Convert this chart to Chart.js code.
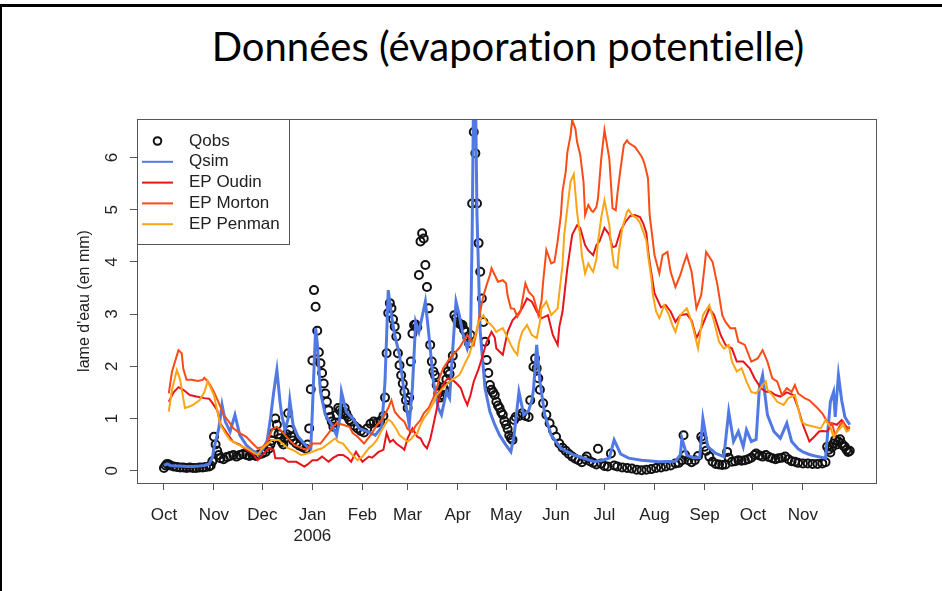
<!DOCTYPE html>
<html lang="fr">
<head>
<meta charset="utf-8">
<title>Données (évaporation potentielle)</title>
<script src="https://cdn.jsdelivr.net/npm/chart.js@4.4.1/dist/chart.umd.min.js"></script>
<style>
  html, body { margin: 0; padding: 0; background: #fff; }
  #slide { position: relative; width: 942px; height: 591px; overflow: hidden; background: #fff; }
  .frame-top { position: absolute; left: 0; top: 4px; width: 942px; height: 3px; background: #000; }
  .frame-left { position: absolute; left: 0; top: 4px; width: 2px; height: 587px; background: #000; }
  h1 { position: absolute; left: 0; top: 26px; width: 1016px; margin: 0; text-align: center;
       font: 400 40px/40px Lato, sans-serif; color: #000; font-variant-ligatures: none; }
  canvas { position: absolute; left: 0; top: 0; }
</style>
</head>
<body>
<div id="slide">
  <div class="frame-top"></div>
  <div class="frame-left"></div>
  <h1>Données (évaporation potentielle)</h1>
  <canvas id="chart" width="942" height="591"></canvas>
</div>
<script>
// days counted from 1 Oct 2005
const monthTicks = [0, 31, 61, 92, 123, 151, 182, 212, 243, 273, 304, 335, 365, 396];
const monthLabels = ['Oct', 'Nov', 'Dec', ['Jan', '2006'], 'Feb', 'Mar', 'Apr', 'May', 'Jun', 'Jul', 'Aug', 'Sep', 'Oct', 'Nov'];
const yTicks = [0, 1, 2, 3, 4, 5, 6];

// [day, mm]
const qobsPoints = [
  [0,0.05],[1,0.10],[2,0.13],[3,0.12],[4,0.10],[6,0.08],[8,0.07],[10,0.06],[12,0.06],[14,0.05],[16,0.06],[18,0.05],
  [20,0.05],[22,0.06],[24,0.06],[26,0.07],[28,0.08],[29,0.10],[30,0.18],[31,0.65],[32,0.50],[33,0.38],[34,0.30],
  [35,0.24],[37,0.22],[39,0.26],[41,0.28],[43,0.30],[45,0.27],[47,0.30],[49,0.32],[51,0.30],[53,0.28],[55,0.30],
  [57,0.28],[59,0.31],[61,0.33],[63,0.36],[65,0.42],[66,0.50],[67,0.58],[68,0.72],[69,1.00],[70,0.88],[71,0.70],
  [72,0.62],[73,0.55],[74,0.50],[75,0.62],[76,0.70],[77,1.10],[78,0.78],[79,0.66],[80,0.58],[82,0.52],[84,0.48],
  [86,0.45],[88,0.42],[89,0.50],[90,0.81],[91,1.56],[92,2.11],[93,3.46],[94,3.14],[95,2.68],[96,2.27],[97,2.06],
  [98,1.87],[99,1.67],[100,1.48],[101,1.32],[102,1.16],[103,1.03],[104,0.94],[105,0.84],[106,0.92],[107,1.07],
  [108,1.20],[109,1.16],[110,1.12],[111,1.08],[112,1.20],[113,1.10],[114,1.03],[115,0.97],[116,0.94],[118,0.86],
  [120,0.81],[122,0.76],[124,0.73],[126,0.81],[128,0.90],[130,0.94],[132,0.92],[134,0.95],[136,1.05],[137,1.40],
  [138,2.25],[139,3.02],[140,3.21],[141,3.11],[142,2.90],[143,2.76],[144,2.57],[145,2.25],[146,2.02],[147,1.83],
  [148,1.67],[149,1.51],[150,1.35],[151,1.20],[152,1.40],[153,2.09],[154,2.63],[155,2.79],[156,2.80],[157,2.75],
  [158,3.75],[159,4.39],[160,4.55],[161,4.45],[162,3.94],[163,3.52],[164,3.11],[165,2.41],[166,2.09],[167,1.90],
  [168,1.83],[169,1.64],[170,1.48],[171,1.40],[172,1.45],[173,1.60],[174,1.55],[175,1.75],[176,1.90],[177,1.85],
  [178,2.02],[179,2.20],[180,2.98],[181,2.92],[182,2.85],[183,2.82],[184,2.80],[185,2.79],[186,2.70],[187,2.66],
  [188,2.55],[189,2.44],[190,2.60],[191,5.12],[192,6.49],[193,6.08],[194,5.12],[195,4.36],[196,3.81],[197,3.30],
  [198,2.85],[199,2.47],[200,2.12],[201,1.87],[202,1.64],[203,1.55],[204,1.50],[205,1.45],[206,1.32],[207,1.25],
  [208,1.20],[209,1.12],[210,1.07],[211,0.95],[212,0.88],[213,0.80],[214,0.68],[215,0.62],[216,0.59],[217,0.97],
  [218,1.03],[220,1.05],[222,1.10],[224,1.05],[226,1.03],[227,1.35],[229,1.99],[230,2.15],[231,1.96],[232,1.77],
  [233,1.55],[235,1.29],[237,1.07],[239,0.91],[241,0.78],[243,0.65],[245,0.52],[247,0.44],[249,0.38],[251,0.32],
  [253,0.27],[255,0.23],[257,0.20],[259,0.16],[261,0.22],[262,0.27],[264,0.18],[266,0.15],[268,0.12],[269,0.42],
  [271,0.14],[273,0.09],[275,0.08],[277,0.33],[279,0.10],[281,0.08],[284,0.06],[287,0.05],[290,0.04],[293,0.02],
  [296,0.01],[299,0.02],[302,0.03],[305,0.05],[308,0.06],[311,0.08],[314,0.10],[317,0.14],[319,0.15],[321,0.20],
  [322,0.68],[323,0.30],[325,0.20],[327,0.16],[329,0.20],[331,0.28],[333,0.65],[334,0.60],[335,0.46],[336,0.38],
  [338,0.27],[340,0.17],[342,0.13],[344,0.12],[346,0.11],[348,0.12],[349,0.36],[350,0.25],[352,0.17],[354,0.18],
  [356,0.20],[358,0.19],[360,0.20],[362,0.22],[364,0.25],[366,0.30],[367,0.33],[369,0.29],[371,0.27],[373,0.30],
  [375,0.26],[377,0.24],[379,0.22],[381,0.24],[383,0.25],[385,0.27],[387,0.22],[389,0.18],[391,0.17],[393,0.15],
  [396,0.14],[399,0.14],[402,0.13],[405,0.13],[408,0.14],[410,0.16],[411,0.46],[412,0.40],[413,0.35],[414,0.45],
  [415,0.52],[416,0.59],[417,0.50],[418,0.56],[419,0.60],[420,0.52],[421,0.48],[422,0.46],[423,0.40],[424,0.36],
  [425,0.38]
];

const qsimPoints = [
  [0,0.10],[2,0.13],[4,0.10],[7,0.09],[10,0.09],[14,0.08],[18,0.08],[22,0.09],[25,0.10],[28,0.13],[30,0.25],
  [31,0.43],[34,0.81],[36,1.26],[38,0.94],[41,0.75],[44,1.07],[47,0.68],[51,0.49],[55,0.38],[59,0.32],[62,0.45],
  [64,0.58],[66,1.00],[68,1.50],[70,1.93],[72,1.30],[73,1.07],[75,0.78],[77,1.00],[78,1.35],[80,0.88],[83,0.66],
  [86,0.55],[89,0.45],[91,0.42],[92,1.16],[94,2.73],[95,2.45],[97,1.51],[100,1.07],[104,0.88],[107,0.68],[109,1.00],
  [110,1.51],[113,1.13],[117,1.00],[121,0.81],[126,0.75],[131,0.68],[135,0.84],[137,1.71],[139,3.46],[141,2.98],
  [143,2.60],[146,2.22],[148,1.71],[150,1.26],[152,0.88],[154,1.60],[156,2.85],[158,2.66],[160,2.95],[162,3.24],
  [164,2.66],[167,1.71],[170,1.20],[172,1.07],[175,1.51],[177,1.39],[179,2.34],[181,3.24],[183,2.98],[185,2.66],
  [188,2.34],[190,2.55],[191,4.50],[192,7.60],[193,7.40],[194,4.90],[196,2.66],[199,1.58],[202,1.13],[205,0.88],
  [208,0.68],[212,0.49],[215,0.36],[217,0.68],[220,1.51],[223,1.07],[226,1.15],[228,1.35],[229,1.55],[231,2.41],
  [233,1.71],[236,1.07],[240,0.68],[246,0.43],[254,0.30],[262,0.22],[267,0.17],[272,0.20],[276,0.24],[279,0.59],
  [283,0.32],[288,0.24],[296,0.20],[307,0.17],[317,0.18],[320,0.30],[321,0.62],[324,0.30],[328,0.25],[332,0.25],
  [334,1.00],[337,0.46],[342,0.33],[347,0.27],[350,1.13],[353,0.56],[356,0.75],[359,0.46],[361,0.78],[364,0.56],
  [367,0.60],[369,1.58],[371,1.83],[374,1.07],[378,0.75],[382,0.62],[386,0.91],[389,0.56],[393,0.42],[396,0.36],
  [400,0.31],[405,0.27],[410,0.24],[411,0.60],[413,1.32],[415,1.51],[416,1.03],[418,1.83],[420,1.35],[422,1.03],
  [425,0.88]
];

const oudinPoints = [
  [3,1.32],[6,1.50],[9,1.60],[12,1.55],[16,1.45],[20,1.42],[25,1.39],[28,1.38],[30,1.30],[33,1.16],[35,0.90],
  [39,0.72],[43,0.55],[47,0.50],[51,0.40],[55,0.33],[58,0.20],[61,0.30],[65,0.43],[68,0.40],[69,0.24],[74,0.24],
  [77,0.17],[82,0.17],[87,0.08],[89,0.12],[92,0.20],[95,0.20],[98,0.27],[102,0.17],[105,0.25],[108,0.30],[111,0.30],
  [114,0.24],[116,0.17],[119,0.36],[123,0.17],[127,0.27],[129,0.25],[133,0.36],[136,0.40],[138,0.72],[140,0.55],
  [142,0.59],[144,0.52],[148,0.43],[149,0.40],[151,0.62],[154,0.81],[157,0.65],[159,0.62],[161,0.50],[163,0.43],
  [165,0.60],[167,0.88],[170,1.32],[172,1.58],[174,1.70],[176,1.77],[180,1.71],[182,1.65],[184,1.58],[186,1.40],
  [188,1.26],[190,1.45],[192,1.71],[195,1.95],[197,2.15],[200,2.47],[203,2.66],[205,2.55],[206,2.34],[210,2.22],
  [213,2.66],[216,2.88],[219,2.98],[222,3.11],[225,3.30],[228,3.24],[231,3.05],[234,2.92],[238,2.98],[241,2.60],
  [244,2.41],[245,2.75],[247,3.05],[250,3.88],[253,4.52],[256,4.70],[258,4.65],[261,4.32],[263,4.22],[266,4.13],
  [268,4.32],[270,4.40],[273,4.65],[276,4.52],[278,4.28],[280,4.30],[283,4.60],[286,4.77],[289,4.88],[292,4.90],
  [295,4.86],[297,4.74],[299,4.55],[300,4.23],[301,4.00],[304,3.40],[308,3.13],[311,3.17],[314,3.05],[317,2.85],
  [320,2.98],[324,3.00],[327,2.88],[330,2.54],[333,2.73],[338,3.11],[341,2.98],[345,2.60],[348,2.41],[352,2.34],
  [355,2.09],[359,2.09],[363,1.96],[366,1.77],[370,1.58],[373,1.51],[376,1.51],[379,1.45],[382,1.42],[386,1.50],
  [390,1.45],[393,1.20],[396,0.88],[400,0.56],[403,0.65],[406,0.75],[408,0.76],[411,0.75],[414,0.91],[417,0.88],
  [420,0.97],[423,0.84],[425,0.80]
];

const mortonPoints = [
  [3,1.48],[5,1.90],[9,2.31],[11,2.25],[12,1.95],[14,1.74],[17,1.74],[21,1.72],[24,1.74],[25,1.78],[27,1.72],
  [29,1.62],[31,1.51],[34,1.30],[37,1.07],[40,0.95],[43,0.81],[47,0.72],[51,0.65],[55,0.52],[58,0.43],[61,0.45],
  [64,0.55],[67,0.78],[70,0.84],[73,0.75],[75,0.68],[78,0.58],[81,0.49],[84,0.45],[88,0.40],[92,0.52],[97,0.52],
  [102,0.72],[105,0.85],[107,0.91],[111,0.88],[115,0.84],[117,0.72],[120,0.65],[124,0.52],[126,0.60],[129,0.72],
  [132,0.88],[135,0.97],[139,1.20],[141,1.35],[143,1.13],[146,1.02],[149,0.94],[151,0.80],[154,0.75],[156,0.86],
  [159,0.97],[161,1.10],[164,1.20],[167,1.40],[169,1.58],[171,1.80],[173,1.96],[175,2.05],[177,2.15],[180,2.25],
  [183,2.35],[185,2.45],[188,2.60],[190,2.50],[192,2.41],[194,2.70],[196,3.05],[198,3.35],[200,3.56],[202,3.75],
  [203,3.88],[205,3.75],[207,3.62],[210,3.65],[212,3.59],[213,3.35],[215,3.11],[217,3.10],[219,2.95],[221,3.05],
  [222,3.24],[224,3.59],[226,3.43],[229,3.33],[231,3.10],[232,2.98],[234,3.25],[235,3.62],[237,4.23],[240,3.97],
  [242,4.00],[244,4.40],[246,4.90],[247,5.35],[249,5.73],[250,6.10],[252,6.43],[253,6.72],[255,6.55],[256,6.30],
  [258,6.05],[260,5.54],[261,4.90],[263,5.09],[265,4.98],[266,4.96],[268,5.05],[269,5.22],[271,5.98],[273,6.53],
  [276,5.98],[278,5.03],[280,4.99],[281,5.30],[283,5.79],[285,6.24],[287,6.33],[288,6.28],[290,6.24],[292,6.20],
  [294,6.11],[296,6.02],[297,5.95],[298,5.86],[300,5.60],[301,4.90],[303,4.40],[304,4.13],[307,3.78],[309,4.13],
  [312,4.19],[314,3.81],[317,3.52],[320,3.75],[322,3.95],[324,4.13],[327,3.81],[330,3.11],[333,3.37],[335,3.90],
  [336,4.19],[340,4.00],[343,3.56],[346,2.98],[348,2.85],[351,2.73],[354,2.73],[356,2.47],[360,2.41],[364,2.09],
  [368,2.15],[371,2.31],[374,2.09],[377,1.77],[380,1.71],[383,1.45],[386,1.58],[389,1.51],[391,1.64],[393,1.48],
  [397,1.39],[400,1.35],[405,1.20],[408,1.10],[411,0.94],[414,0.91],[416,0.68],[419,0.88],[421,0.94],[423,0.78],
  [425,0.85]
];

const penmanPoints = [
  [3,1.13],[5,1.55],[8,1.93],[10,1.75],[13,1.20],[15,1.22],[18,1.26],[22,1.35],[25,1.50],[27,1.71],[28,1.65],
  [31,1.45],[33,1.15],[35,0.88],[38,0.72],[41,0.59],[46,0.50],[51,0.43],[58,0.30],[61,0.43],[64,0.50],[67,0.59],
  [71,0.59],[74,0.50],[77,0.43],[81,0.38],[85,0.30],[89,0.33],[92,0.36],[95,0.40],[98,0.43],[102,0.52],[106,0.62],
  [108,0.55],[111,0.52],[115,0.36],[120,0.20],[123,0.27],[127,0.43],[129,0.48],[132,0.59],[134,0.72],[137,0.88],
  [139,0.98],[141,0.94],[144,0.80],[146,0.68],[151,0.56],[153,0.60],[155,0.68],[157,0.72],[159,0.88],[161,1.00],
  [164,1.13],[167,1.30],[169,1.45],[173,1.58],[177,1.71],[183,1.83],[185,1.95],[187,2.09],[189,2.20],[191,2.41],
  [193,2.60],[195,2.85],[198,2.98],[200,2.85],[202,2.82],[204,2.75],[206,2.66],[208,2.70],[210,2.73],[213,2.55],
  [215,2.41],[217,2.30],[219,2.22],[220,2.45],[222,2.66],[225,2.79],[228,2.60],[231,2.54],[233,2.85],[234,3.11],
  [237,3.24],[240,2.98],[244,3.11],[245,3.40],[247,3.94],[248,4.50],[250,5.03],[252,5.54],[254,5.68],[256,4.96],
  [258,4.48],[259,4.13],[261,3.78],[263,3.97],[265,3.85],[266,3.81],[268,4.05],[269,4.39],[271,4.85],[273,5.18],
  [276,4.71],[277,4.36],[279,3.92],[281,3.88],[282,4.20],[284,4.64],[287,4.96],[288,5.00],[290,4.90],[293,4.84],
  [295,4.75],[297,4.58],[299,4.40],[300,4.13],[302,3.70],[303,3.37],[305,3.05],[307,2.92],[310,3.17],[313,2.98],
  [315,2.80],[317,2.66],[320,2.98],[324,3.11],[326,2.95],[328,2.73],[331,2.34],[334,2.98],[338,3.17],[341,2.85],
  [344,2.47],[347,2.34],[350,2.41],[352,2.09],[355,1.90],[358,1.96],[361,1.71],[364,1.51],[367,1.48],[371,1.64],
  [373,1.71],[374,1.55],[377,1.45],[380,1.32],[384,1.26],[387,1.39],[391,1.45],[393,1.20],[395,0.94],[398,0.88],
  [403,0.84],[407,0.81],[410,0.97],[413,0.84],[415,0.65],[418,0.78],[421,0.88],[423,0.75],[425,0.78]
];

const toXY = pts => pts.map(([d, v]) => ({ x: d, y: v }));
const axisFont = { family: '"Liberation Sans", Arial, sans-serif', size: 17, lineHeight: 1.24 };

// R-style legend box in the top left corner of the plot
const boxLegend = {
  id: 'boxLegend',
  afterDatasetsDraw(chart) {
    const { ctx, chartArea } = chart;
    const x0 = chartArea.left, y0 = chartArea.top;
    ctx.save();
    ctx.fillStyle = '#fff';
    ctx.fillRect(x0, y0, 152, 125);
    ctx.strokeStyle = '#555';
    ctx.lineWidth = 1;
    ctx.strokeRect(x0 + 0.5, y0 + 0.5, 152, 125);
    ctx.font = '17px "Liberation Sans", Arial, sans-serif';
    ctx.textBaseline = 'middle';
    chart.data.datasets.forEach((ds, i) => {
      const y = y0 + 22 + i * 20.8;
      if (ds.showLine === false) {
        ctx.beginPath();
        ctx.arc(x0 + 20.5, y, 3.8, 0, Math.PI * 2);
        ctx.strokeStyle = ds.pointBorderColor;
        ctx.lineWidth = 2;
        ctx.stroke();
      } else {
        ctx.beginPath();
        ctx.moveTo(x0 + 5, y);
        ctx.lineTo(x0 + 36, y);
        ctx.strokeStyle = ds.borderColor;
        ctx.lineWidth = 2;
        ctx.stroke();
      }
      ctx.fillStyle = '#222';
      ctx.fillText(ds.label, x0 + 52, y);
    });
    ctx.restore();
  }
};

const plotBox = {
  id: 'plotBox',
  afterDraw(chart) {
    const { ctx, chartArea: a } = chart;
    ctx.save();
    ctx.strokeStyle = '#555';
    ctx.lineWidth = 1;
    ctx.strokeRect(a.left + 0.5, a.top + 0.5, a.right - a.left - 1, a.bottom - a.top);
    ctx.restore();
  }
};

new Chart(document.getElementById('chart'), {
  type: 'line',
  data: {
    datasets: [
      { label: 'Qobs', data: toXY(qobsPoints), showLine: false, pointRadius: 4, pointBorderWidth: 2,
        pointBorderColor: '#111', pointBackgroundColor: 'rgba(0,0,0,0)', borderColor: '#111', order: 5 },
      { label: 'Qsim', data: toXY(qsimPoints), borderColor: '#5079E3', borderWidth: 3, pointRadius: 0, order: 4 },
      { label: 'EP Oudin', data: toXY(oudinPoints), borderColor: '#E8141C', borderWidth: 2, pointRadius: 0, order: 3 },
      { label: 'EP Morton', data: toXY(mortonPoints), borderColor: '#F94C16', borderWidth: 2, pointRadius: 0, order: 2 },
      { label: 'EP Penman', data: toXY(penmanPoints), borderColor: '#FBA416', borderWidth: 2, pointRadius: 0, order: 1 }
    ]
  },
  options: {
    responsive: false,
    animation: false,
    devicePixelRatio: 1,
    layout: { padding: { left: 0, top: 119, right: 65, bottom: 0 } },
    plugins: { legend: { display: false }, tooltip: { enabled: false } },
    scales: {
      x: {
        type: 'linear',
        min: -16.7,
        max: 441.9,
        afterBuildTicks: s => { s.ticks = monthTicks.map(v => ({ value: v })); },
        afterFit: s => { s.height = 108; },
        border: { display: false },
        grid: { drawOnChartArea: false, drawTicks: true, tickLength: 7, color: '#555' },
        ticks: {
          autoSkip: false, maxRotation: 0, padding: 15, color: '#222', font: axisFont,
          callback: v => monthLabels[monthTicks.indexOf(v)]
        }
      },
      y: {
        min: -0.236,
        max: 6.738,
        afterBuildTicks: s => { s.ticks = yTicks.map(v => ({ value: v })); },
        afterFit: s => { s.width = 137; },
        border: { display: false },
        grid: { drawOnChartArea: false, drawTicks: true, tickLength: 7, color: '#555' },
        ticks: { minRotation: 90, maxRotation: 90, crossAlign: 'center', padding: 13, color: '#222', font: axisFont },
        title: { display: true, text: "lame d'eau (en mm)", color: '#222', padding: { top: 75, bottom: 0 },
                 font: { family: '"Liberation Sans", Arial, sans-serif', size: 16, lineHeight: 1.2 } }
      }
    }
  },
  plugins: [boxLegend, plotBox]
});
</script>
</body>
</html>
